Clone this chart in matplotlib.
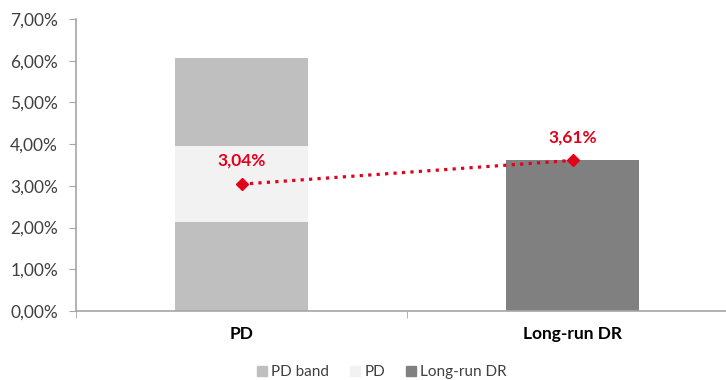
import matplotlib.pyplot as plt
import numpy as np
from matplotlib.patches import Patch

# Kategorien und Werte (in Prozent)
categories = ['PD', 'Long-run DR']
band_lower = [2.13, 0.0]
pd_range = [1.83, 0.0]
band_upper = [2.10, 0.0]
long_run_dr = [0.0, 3.61]
point_values = [3.04, 3.61]

col_band = '#bfbfbf'
col_pd = '#f2f2f2'
col_lr = '#808080'
col_red = '#e3001b'
col_axis = '#a6a6a6'
col_text = '#404040'

plt.rcParams['font.family'] = ['Lato', 'DejaVu Sans']

fig = plt.figure(figsize=(7.26, 3.8), dpi=100)
ax = fig.add_axes([76 / 726, 69 / 380, 662 / 726, 292 / 380])

x = np.arange(len(categories))
w = 0.4
ax.bar(x, band_lower, w, color=col_band)
ax.bar(x, pd_range, w, bottom=band_lower, color=col_pd)
ax.bar(x, band_upper, w, bottom=np.add(band_lower, pd_range), color=col_band)
ax.bar(x, long_run_dr, w, color=col_lr)

ax.plot(x, point_values, color=col_red, linestyle=':', linewidth=2.3,
        marker='D', markersize=6, zorder=5)
for xi, v in zip(x, point_values):
    ax.annotate(f'{v:.2f}%'.replace('.', ','), (xi, v), xytext=(0, 11),
                textcoords='offset points', ha='center', va='bottom',
                color=col_red, fontsize=12.5, fontweight='bold')

ax.set_xlim(-0.5, 1.5)
ax.set_ylim(0, 7)
ax.set_yticks(np.arange(0, 8, 1))
ax.set_yticklabels([f'{v:.2f}%'.replace('.', ',') for v in np.arange(0, 8, 1)],
                   fontsize=12.5, color=col_text)
ax.set_xticks(x)
ax.set_xticklabels(categories, fontsize=12.5, fontweight='bold', color='black')
ax.tick_params(axis='x', length=0, pad=11)
ax.set_xticks([-0.5, 0.5, 1.5], minor=True)
ax.tick_params(axis='x', which='minor', length=5, color=col_axis)
ax.tick_params(axis='y', length=5, color=col_axis, pad=8)

for s in ['top', 'right']:
    ax.spines[s].set_visible(False)
for s in ['left', 'bottom']:
    ax.spines[s].set_color(col_axis)
    ax.spines[s].set_linewidth(1.2)

handles = [Patch(color=col_band, label='PD band'),
           Patch(color=col_pd, label='PD'),
           Patch(color=col_lr, label='Long-run DR')]
fig.legend(handles=handles, loc='center', bbox_to_anchor=(382 / 726, 8 / 380),
           ncol=3, frameon=False, fontsize=11, handlelength=0.65, handleheight=0.65,
           handletextpad=0.25, columnspacing=1.4, labelcolor=col_text)

fig.savefig('out.png', dpi=100)
